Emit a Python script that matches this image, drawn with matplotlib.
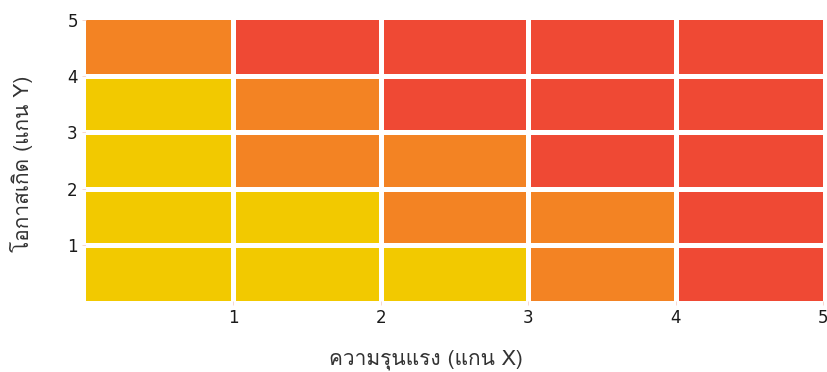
import matplotlib
matplotlib.use("Agg")
import matplotlib.pyplot as plt
import numpy as np
from matplotlib.colors import ListedColormap

plt.rcParams['font.family'] = ['Loma', 'Noto Sans Thai Looped', 'DejaVu Sans']

severity = [1, 2, 3, 4, 5]
likelihood = [1, 2, 3, 4, 5]
# risk level per cell: rows = likelihood 1..5 (bottom to top), cols = severity 1..5
levels = [
    [0, 0, 0, 1, 2],
    [0, 0, 1, 1, 2],
    [0, 1, 1, 2, 2],
    [0, 1, 2, 2, 2],
    [1, 2, 2, 2, 2],
]
colors = ["#F2C900", "#F38323", "#EF4934"]
x_title = "ความรุนแรง (แกน X)"
y_title = "โอกาสเกิด (แกน Y)"

fig = plt.figure(figsize=(8.28, 3.72), dpi=100)
ax = fig.add_axes([0.104, 0.191, 0.890, 0.755])
x = np.arange(0, len(severity) + 1)
y = np.arange(0, len(likelihood) + 1)
ax.pcolormesh(x, y, np.array(levels), cmap=ListedColormap(colors), vmin=-0.5, vmax=2.5)
for v in severity[:-1]:
    ax.axvline(v, color="white", linewidth=3.6)
for v in likelihood[:-1]:
    ax.axhline(v, color="white", linewidth=3.6)
ax.set_xlim(0, 5)
ax.set_ylim(0, 5)
ax.set_xticks(severity)
ax.set_yticks(likelihood)
for s in ax.spines.values():
    s.set_visible(False)
ax.tick_params(length=3, width=0.6, color="#F7D0C8", pad=3)
for lab in ax.get_xticklabels() + ax.get_yticklabels():
    lab.set_color("#1a1a1a")
    lab.set_fontfamily(['DejaVu Sans'])
    lab.set_fontsize(12)
ax.set_xlabel(x_title, fontsize=15, color="#333333")
ax.set_ylabel(y_title, fontsize=15, color="#333333")
ax.xaxis.set_label_coords(0.461, -0.172)
ax.yaxis.set_label_coords(-0.072, 0.49)
fig.savefig("out.png", dpi=100)
